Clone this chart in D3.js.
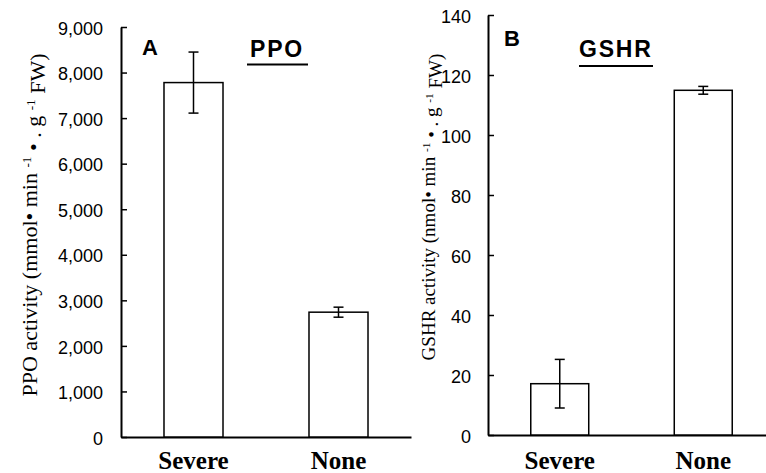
<!DOCTYPE html>
<html>
<head>
<meta charset="utf-8">
<script src="https://cdn.jsdelivr.net/npm/d3@7"></script>
<style>
  body { margin: 0; background: #fff; }
  svg { display: block; }
  .tick text { font-family: "Liberation Sans", Arial, sans-serif; font-size: 18px; fill: #000; }
  .tick line, .domain { stroke: #000; }
</style>
</head>
<body>
<div id="chart"></div>
<script>
// data
const categories = ["Severe", "None"];
const ppoMeans = [7780, 2740];
const ppoErrors = [670, 110];
const gshrMeans = [17.1, 114.9];
const gshrErrors = [8.1, 1.3];
const ppoTicks = [0, 1000, 2000, 3000, 4000, 5000, 6000, 7000, 8000, 9000];
const gshrTicks = [0, 20, 40, 60, 80, 100, 120, 140];

const width = 766, height = 473;

const svg = d3.select("#chart")
  .append("svg")
  .attr("width", width)
  .attr("height", height);

/**
 * draw one panel (bars, error bars, axes, labels)
 **/
function drawPanel(opt) {
  const g = svg.append("g");

  const x = d3.scaleBand()
    .domain(categories)
    .range(opt.xRange)
    .paddingInner(opt.padInner)
    .paddingOuter(opt.padInner / 2);

  const y = d3.scaleLinear()
    .domain(opt.yDomain)
    .range(opt.yRange);

  // y axis, ticks pointing inward
  g.append("g")
    .attr("class", "y-axis")
    .attr("transform", `translate(${opt.xRange[0]},0)`)
    .call(d3.axisLeft(y)
      .tickValues(opt.ticks)
      .tickSizeInner(-6)
      .tickSizeOuter(0)
      .tickPadding(opt.tickPad)
      .tickFormat(opt.fmt))
    .call(a => a.select(".domain").attr("stroke-width", 2))
    .call(a => a.selectAll(".tick line").attr("stroke-width", 1.5))
    .call(a => a.selectAll(".tick text").attr("dy", "0.4em"));

  // x axis: plain baseline
  g.append("g")
    .attr("transform", `translate(0,${opt.yRange[0]})`)
    .call(d3.axisBottom(x).tickSize(0).tickFormat(""))
    .call(a => a.select(".domain").attr("stroke-width", 2));

  // bars
  g.selectAll(".bar")
    .data(categories)
    .enter()
    .append("rect")
    .attr("class", "bar")
    .attr("x", d => x(d))
    .attr("width", x.bandwidth())
    .attr("y", (d, i) => y(opt.means[i]))
    .attr("height", (d, i) => y(0) - y(opt.means[i]))
    .attr("fill", "#fff")
    .attr("stroke", "#000")
    .attr("stroke-width", 1.5);

  // error bars
  const capW = 5;
  const err = g.selectAll(".err")
    .data(categories)
    .enter()
    .append("g")
    .attr("class", "err")
    .attr("stroke", "#000")
    .attr("stroke-width", 1.5);
  err.append("line")
    .attr("x1", d => x(d) + x.bandwidth() / 2)
    .attr("x2", d => x(d) + x.bandwidth() / 2)
    .attr("y1", (d, i) => y(opt.means[i] + opt.errors[i]))
    .attr("y2", (d, i) => y(opt.means[i] - opt.errors[i]));
  [1, -1].forEach(s => {
    err.append("line")
      .attr("x1", d => x(d) + x.bandwidth() / 2 - capW)
      .attr("x2", d => x(d) + x.bandwidth() / 2 + capW)
      .attr("y1", (d, i) => y(opt.means[i] + s * opt.errors[i]))
      .attr("y2", (d, i) => y(opt.means[i] + s * opt.errors[i]));
  });

  // category labels
  g.selectAll(".cat")
    .data(categories)
    .enter()
    .append("text")
    .attr("class", "cat")
    .attr("x", d => x(d) + x.bandwidth() / 2)
    .attr("y", 469)
    .attr("text-anchor", "middle")
    .style("font-family", "'Liberation Serif', 'Times New Roman', serif")
    .style("font-weight", "bold")
    .style("font-size", "25px")
    .text(d => d);

  // panel letter
  g.append("text")
    .attr("x", opt.letterPos[0])
    .attr("y", opt.letterPos[1])
    .style("font-family", "'Liberation Sans', Arial, sans-serif")
    .style("font-weight", "bold")
    .style("font-size", "22px")
    .text(opt.letter);

  // underlined enzyme name
  g.append("text")
    .attr("x", opt.namePos[0])
    .attr("y", opt.namePos[1])
    .style("font-family", "'Liberation Sans', Arial, sans-serif")
    .style("font-weight", "bold")
    .style("font-size", "23px")
    .style("letter-spacing", "1.8px")
    .text(opt.name);
  g.append("line")
    .attr("x1", opt.underline[0])
    .attr("x2", opt.underline[1])
    .attr("y1", opt.underline[2])
    .attr("y2", opt.underline[2])
    .attr("stroke", "#000")
    .attr("stroke-width", 2.2);

  // rotated y title with superscripts
  const t = g.append("text")
    .attr("transform", `translate(${opt.titlePos[0]},${opt.titlePos[1]}) rotate(-90)`)
    .attr("text-anchor", "middle")
    .style("font-family", "'Liberation Serif', 'Times New Roman', serif")
    .style("font-size", opt.titleSize + "px");
  t.append("tspan").text(opt.name + " activity (" + opt.unit + "mol\u2022 min ");
  t.append("tspan").attr("dy", "-0.45em").style("font-size", "0.6em").text("-1");
  t.append("tspan").attr("dy", "0.45em").text(" \u2022 . g ");
  t.append("tspan").attr("dy", "-0.45em").style("font-size", "0.6em").text("-1");
  t.append("tspan").attr("dy", "0.45em").text(" FW)");
}

drawPanel({
  xRange: [121, 411],
  padInner: 0.593,
  yDomain: [0, 9000],
  yRange: [437, 27],
  ticks: ppoTicks,
  tickPad: 18,
  fmt: d3.format(","),
  means: ppoMeans,
  errors: ppoErrors,
  letter: "A",
  letterPos: [142, 55],
  name: "PPO",
  namePos: [250, 57],
  underline: [247, 308, 64.5],
  unit: "m",
  titlePos: [37, 225],
  titleSize: 22
});

drawPanel({
  xRange: [488, 775],
  padInner: 0.596,
  yDomain: [0, 140],
  yRange: [435, 15],
  ticks: gshrTicks,
  tickPad: 17,
  fmt: d3.format("d"),
  means: gshrMeans,
  errors: gshrErrors,
  letter: "B",
  letterPos: [504, 46],
  name: "GSHR",
  namePos: [579, 57],
  underline: [579, 653, 66],
  unit: "n",
  titlePos: [435, 207],
  titleSize: 19
});
</script>
</body>
</html>
